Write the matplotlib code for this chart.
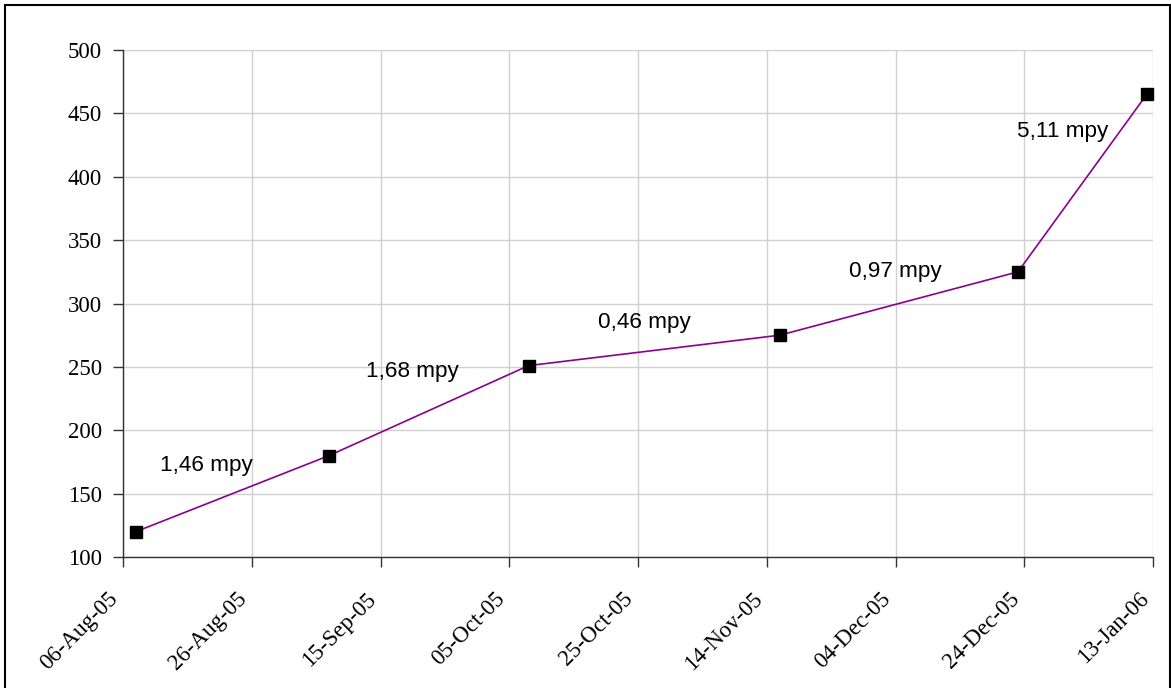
import matplotlib
matplotlib.use("Agg")
import matplotlib.pyplot as plt
import matplotlib.dates as mdates
import matplotlib.transforms as mtransforms
from matplotlib.patches import Rectangle
import datetime as dt

# Measurement dates and readings
dates = ["2005-08-08", "2005-09-07", "2005-10-08", "2005-11-16", "2005-12-23", "2006-01-12"]
values = [120, 180, 251, 275, 325, 465]

# Rate labels for each interval, with their anchor dates and heights
rate_labels = ["1,46 mpy", "1,68 mpy", "0,46 mpy", "0,97 mpy", "5,11 mpy"]
label_dates = ["2005-08-19", "2005-09-20", "2005-10-26", "2005-12-04", "2005-12-30"]
label_values = [172, 246, 285, 325, 436]

tick_dates = ["2005-08-06", "2005-08-26", "2005-09-15", "2005-10-05", "2005-10-25",
              "2005-11-14", "2005-12-04", "2005-12-24", "2006-01-13"]
y_ticks = [100, 150, 200, 250, 300, 350, 400, 450, 500]

to_dt = lambda s: dt.datetime.strptime(s, "%Y-%m-%d")
x = [to_dt(d) for d in dates]
xt = [to_dt(d) for d in tick_dates]

fig = plt.figure(figsize=(11.71, 6.88), dpi=100)
ax = fig.add_axes([0.105, 0.1904, 0.8798, 0.7369])

ax.plot(x, values, color="#8B008B", lw=1.2, marker="s", markersize=9,
        markerfacecolor="black", markeredgecolor="black", clip_on=False, zorder=3)

for t, d, v in zip(rate_labels, label_dates, label_values):
    ax.text(to_dt(d), v, t, fontsize=16.2, family="Liberation Sans",
            ha="center", va="center", color="black", zorder=4)

ax.set_xlim(xt[0], xt[-1])
ax.set_ylim(100, 500)
ax.set_xticks(xt)
ax.xaxis.set_major_formatter(mdates.DateFormatter("%d-%b-%y"))
ax.set_yticks(y_ticks)

ax.grid(True, color="#d0d0d0", lw=1.0)
ax.set_axisbelow(True)
for s in ["top", "right"]:
    ax.spines[s].set_visible(False)
for s in ["left", "bottom"]:
    ax.spines[s].set_color("#333333")
    ax.spines[s].set_linewidth(1.0)

ax.tick_params(axis="both", direction="out", length=7, width=1.0, color="#333333",
               labelsize=16.5)
ax.tick_params(axis="y", pad=8)
ax.tick_params(axis="x", pad=21)
for lab in ax.get_yticklabels():
    lab.set_family("Liberation Serif")

shift = mtransforms.ScaledTranslation(-8 / 100, 0, fig.dpi_scale_trans)
for lab in ax.get_xticklabels():
    lab.set_family("Liberation Serif")
    lab.set_rotation(45)
    lab.set_ha("right")
    lab.set_rotation_mode("anchor")
    lab.set_va("center")
    lab.set_transform(lab.get_transform() + shift)

# Outer frame around the chart area
fig.patches.append(Rectangle((5 / 1171, -0.01), 1165 / 1171, 1 - 5 / 688 + 0.01,
                             transform=fig.transFigure, fill=False,
                             edgecolor="black", lw=1.5))

fig.savefig("out.png", dpi=100)
